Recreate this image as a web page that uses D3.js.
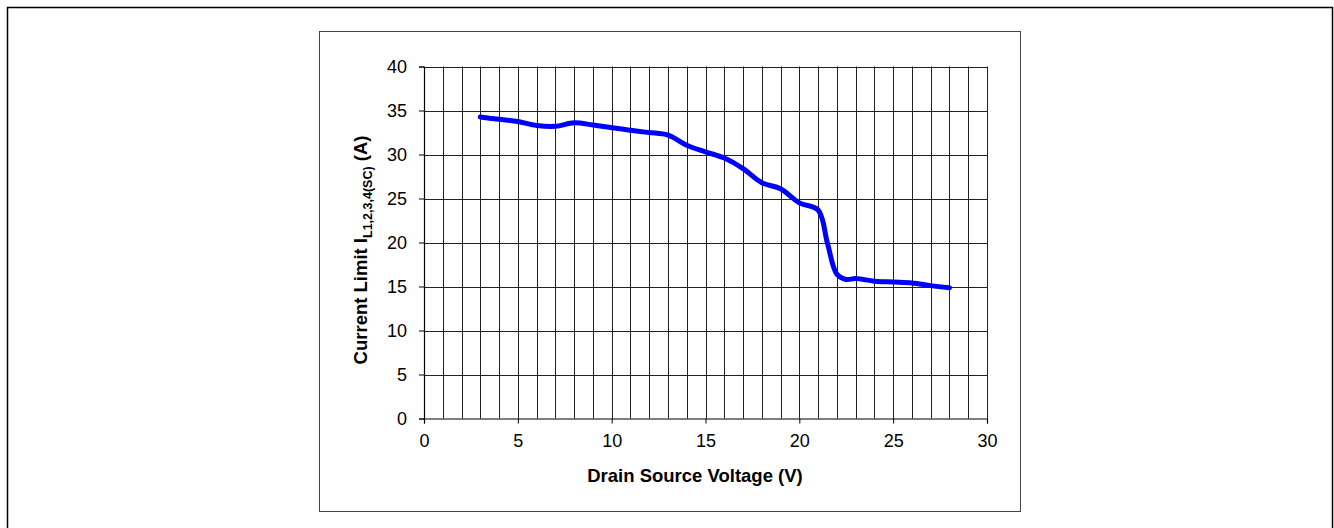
<!DOCTYPE html>
<html><head><meta charset="utf-8">
<script src="https://cdn.jsdelivr.net/npm/d3@7"></script>
<style>
html,body{margin:0;padding:0;background:#fff;}
svg{display:block;font-family:"Liberation Sans",Arial,sans-serif;}
</style></head>
<body>
<svg id="c" width="1334" height="528"></svg>
<script>
// Data
const voltage = [3, 4, 5, 6, 7, 8, 9, 10, 11, 12, 13, 14, 15, 16, 17, 18, 19, 20, 21, 21.5, 22, 22.5, 23, 24, 25, 26, 27, 28];
const current = [34.25, 34.0, 33.75, 33.3, 33.2, 33.6, 33.35, 33.05, 32.75, 32.5, 32.2, 31.05, 30.3, 29.6, 28.4, 26.8, 26.1, 24.5, 23.7, 19.9, 16.4, 15.8, 15.9, 15.6, 15.5, 15.4, 15.1, 14.85];
const xTicks = [0, 5, 10, 15, 20, 25, 30];
const yTicks = [0, 5, 10, 15, 20, 25, 30, 35, 40];

const svg = d3.select("#c");
// outer frame
svg.append("rect").attr("x", 7.5).attr("y", 7.5).attr("width", 1325).attr("height", 540)
  .attr("fill", "none").attr("stroke", "#000").attr("stroke-width", 1.5);
// inner chart frame
svg.append("rect").attr("x", 319.5).attr("y", 31.5).attr("width", 701).attr("height", 480)
  .attr("fill", "none").attr("stroke", "#444").attr("stroke-width", 1);

const L = 424, R = 987, T = 66.5, B = 418.5;
const x = d3.scaleLinear().domain([0, 30]).range([L, R]);
const y = d3.scaleLinear().domain([0, 40]).range([B, T]);

const g = svg.append("g");
// vertical grid every 1 V
g.selectAll("line.v").data(d3.range(1, 31)).join("line")
  .attr("x1", d => Math.round(x(d)) + 0.5).attr("x2", d => Math.round(x(d)) + 0.5)
  .attr("y1", T).attr("y2", B).attr("stroke", "#222").attr("stroke-width", 1);
// horizontal grid every 5 A
g.selectAll("line.h").data(yTicks.slice(1)).join("line")
  .attr("x1", L).attr("x2", R)
  .attr("y1", d => Math.round(y(d)) + 0.5).attr("y2", d => Math.round(y(d)) + 0.5)
  .attr("stroke", "#222").attr("stroke-width", 1);

// axes
const xAxis = d3.axisBottom(x).tickValues(xTicks).tickSize(5).tickPadding(11).tickFormat(d3.format("d"));
const yAxis = d3.axisLeft(y).tickValues(yTicks).tickSize(5).tickPadding(12).tickFormat(d3.format("d"));
const gx = svg.append("g").attr("transform", `translate(0,${B})`).call(xAxis);
const gy = svg.append("g").attr("transform", `translate(${L},0)`).call(yAxis);
[gx, gy].forEach(a => {
  a.select(".domain").attr("stroke", "#000").attr("stroke-width", 1.2);
  a.selectAll(".tick line").attr("stroke", "#000");
  a.selectAll(".tick text").attr("font-size", 18).attr("fill", "#000")
    .attr("font-family", "'Liberation Sans',Arial,sans-serif");
});

// curve
const line = d3.line().x((d, i) => x(voltage[i])).y(d => y(d)).curve(d3.curveCatmullRom.alpha(0.5));
svg.append("path").datum(current).attr("d", line)
  .attr("fill", "none").attr("stroke", "#0000ff").attr("stroke-width", 5)
  .attr("stroke-linecap", "round").attr("stroke-linejoin", "round");

// axis titles
svg.append("text").attr("x", 695).attr("y", 481.5).attr("text-anchor", "middle")
  .attr("font-size", 18.5).attr("font-weight", "bold").text("Drain Source Voltage (V)");

const yt = svg.append("text").attr("transform", `translate(367,${250}) rotate(-90)`)
  .attr("text-anchor", "middle").attr("font-size", 18.5).attr("font-weight", "bold");
yt.append("tspan").text("Current Limit I");
yt.append("tspan").attr("font-size", 12.5).attr("dy", 5).text("L1,2,3,4(SC)");
yt.append("tspan").attr("dy", -5).text(" (A)");
</script>
</body></html>
